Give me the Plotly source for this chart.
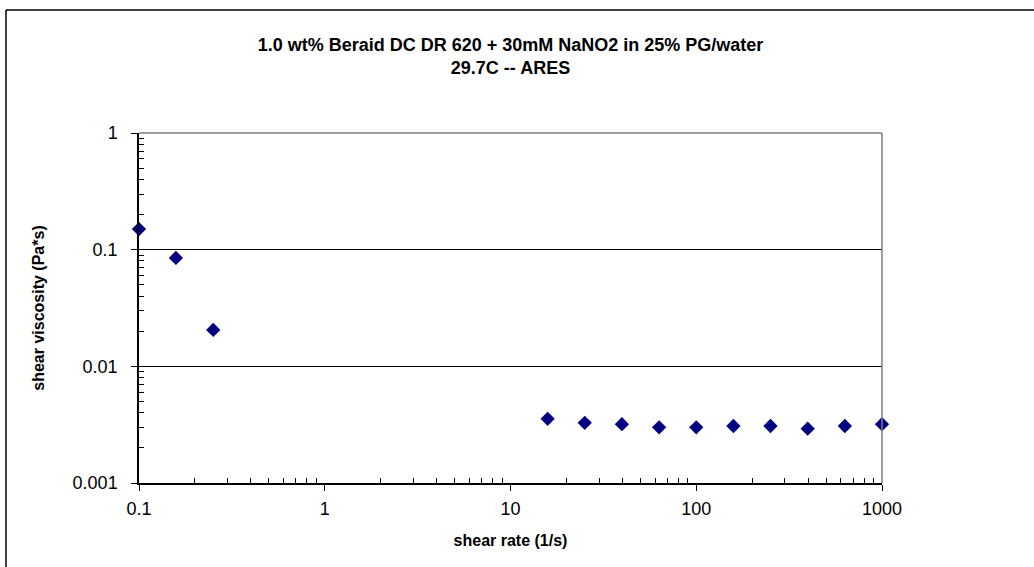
import plotly.graph_objects as go

shear_rate = [0.1, 0.158, 0.251, 15.85, 25.1, 39.8, 63.1, 100, 158.5, 251, 398, 631, 1000]
viscosity = [0.150, 0.0849, 0.0205, 0.00355, 0.00328, 0.00319, 0.00300, 0.00300,
             0.00308, 0.00308, 0.00292, 0.00308, 0.00319]

x_ticks = [0.1, 1, 10, 100, 1000]
x_ticklabels = ["0.1", "1", "10", "100", "1000"]
y_ticks = [0.001, 0.01, 0.1, 1]
y_ticklabels = ["0.001", "0.01", "0.1", "1"]

title_text = "<b>1.0 wt% Beraid DC DR 620 + 30mM NaNO2 in 25% PG/water<br>29.7C -- ARES</b>"
x_title = "<b>shear rate (1/s)</b>"
y_title = "<b>shear viscosity (Pa*s)</b>"

W, H = 1034, 567
L, R, T, B = 139, 882, 133, 483

x_minor = [m * 10 ** e for e in range(-1, 3) for m in range(2, 10)]
y_minor = [m * 10 ** e for e in range(-3, 0) for m in range(2, 10)]

FONT = "Liberation Sans, Arial, sans-serif"

fig = go.Figure()
fig.add_trace(go.Scatter(
    x=shear_rate, y=viscosity, mode="markers",
    marker=dict(symbol="diamond", size=11, color="#000080",
                line=dict(width=0)),
    cliponaxis=False, showlegend=False,
))

def px_x(p):
    return (p - L) / (R - L)

def px_y(p):
    return (B - p) / (B - T)

fig.update_layout(
    width=W, height=H,
    margin=dict(l=L, r=W - R, t=T, b=H - B),
    paper_bgcolor="white", plot_bgcolor="white",
    font=dict(family=FONT, color="black", size=18),
    title=dict(text=title_text, x=(L + R) / 2 / W, xanchor="center",
               y=1 - 51 / H, yanchor="middle",
               font=dict(family=FONT, size=18, color="black")),
    xaxis=dict(
        type="log", range=[-1, 3],
        tickmode="array", tickvals=x_ticks, ticktext=x_ticklabels,
        ticks="outside", ticklen=6, tickwidth=1, tickcolor="black",
        ticklabelstandoff=3,
        showline=True, linecolor="black", linewidth=1.5,
        showgrid=False, zeroline=False,
        tickfont=dict(family=FONT, size=18),
        title=dict(text=x_title, font=dict(family=FONT, size=16), standoff=16),
        minor=dict(tickmode="array", tickvals=x_minor, ticks="inside",
                   ticklen=5, tickcolor="black", tickwidth=1, showgrid=False),
    ),
    yaxis=dict(
        type="log", range=[-3, 0],
        tickmode="array", tickvals=y_ticks, ticktext=y_ticklabels,
        ticks="outside", ticklen=6, tickwidth=1, tickcolor="black",
        ticklabelstandoff=10,
        showline=True, linecolor="black", linewidth=1.5,
        showgrid=True, gridcolor="black", gridwidth=1, zeroline=False,
        tickfont=dict(family=FONT, size=18),
        title=dict(text=y_title, font=dict(family=FONT, size=16), standoff=24),
        minor=dict(tickmode="array", tickvals=y_minor, ticks="inside",
                   ticklen=5, tickcolor="black", tickwidth=1, showgrid=False),
    ),
    shapes=[
        dict(type="line", xref="paper", yref="paper", x0=0, x1=1, y0=1, y1=1,
             line=dict(color="#808080", width=1.5)),
        dict(type="line", xref="paper", yref="paper", x0=1, x1=1, y0=0, y1=1,
             line=dict(color="#808080", width=1.5)),
        dict(type="line", xref="paper", yref="paper",
             x0=px_x(6), x1=px_x(W + 5), y0=px_y(10), y1=px_y(10),
             line=dict(color="black", width=1.5)),
        dict(type="line", xref="paper", yref="paper",
             x0=px_x(6), x1=px_x(6), y0=px_y(10), y1=px_y(H + 5),
             line=dict(color="black", width=1.5)),
    ],
)

fig.write_html("out.html")
